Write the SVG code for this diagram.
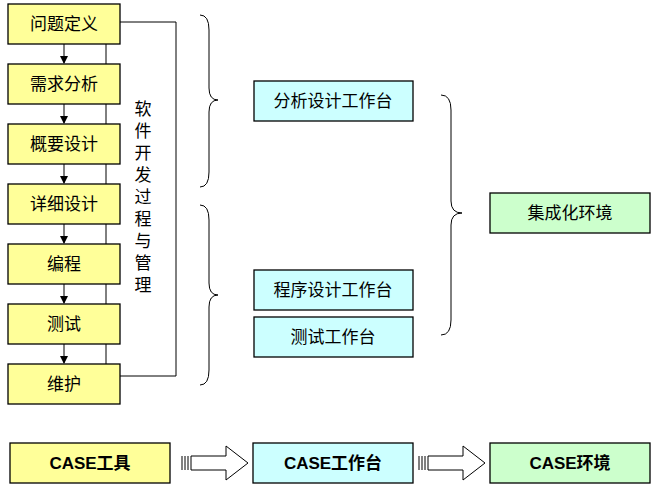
<svg xmlns="http://www.w3.org/2000/svg" width="658" height="491" viewBox="0 0 658 491">
<defs>
<style>
.y{fill:#ffff99;stroke:#000;stroke-width:1.3}
.c{fill:#ccffff;stroke:#000;stroke-width:1.3}
.g{fill:#ccffcc;stroke:#000;stroke-width:1.3}
text{font-family:"Noto Sans CJK SC",sans-serif;font-size:17px;text-anchor:middle;fill:#000}
.b{font-family:"Liberation Sans","Noto Sans CJK SC",sans-serif;font-weight:bold}
.v{writing-mode:vertical-rl;text-anchor:start;letter-spacing:5px}
.l{fill:none;stroke:#000;stroke-width:1}
.br{fill:none;stroke:#000;stroke-width:1}
</style>
<marker id="a" markerWidth="8" markerHeight="8" refX="7" refY="4" orient="auto" markerUnits="userSpaceOnUse"><path d="M0,0 L8,4 L0,8 z" fill="#000"/></marker>
<g id="bigarrow"><path d="M0,11 L0,25 M3,11 L3,25 M6,11 L6,25 M9,11 L9,25 L44,25 L44,35 L66,18 L44,1 L44,11 L9,11" fill="#fff" stroke="#000" stroke-width="1"/></g>
</defs>
<g id="connectors">
<path class="l" d="M64,44 V63" marker-end="url(#a)"/>
<path class="l" d="M64,104 V123" marker-end="url(#a)"/>
<path class="l" d="M64,164 V183" marker-end="url(#a)"/>
<path class="l" d="M64,224 V243" marker-end="url(#a)"/>
<path class="l" d="M64,284 V303" marker-end="url(#a)"/>
<path class="l" d="M64,344 V363" marker-end="url(#a)"/>
<path class="l" d="M106,44 V64 M106,104 V124 M106,164 V184 M106,224 V244 M106,284 V304 M106,344 V364"/>
<path class="l" d="M120,22 H176 V376 H120"/>
<path class="br" d="M200,15 Q209,15 209,30 V88 Q209,100 218,100 Q209,100 209,112 V172 Q209,187 200,187"/>
<path class="br" d="M200,205 Q209,205 209,220 V283 Q209,295 218,295 Q209,295 209,307 V370 Q209,385 200,385"/>
<path class="br" d="M441,95 Q451,95 451,110 V201 Q451,213 462,213 Q451,213 451,225 V320 Q451,335 441,335"/>
<use href="#bigarrow" x="182" y="445"/>
<use href="#bigarrow" x="419" y="445"/>
</g>
<g id="n1"><rect class="y" x="8" y="4" width="112" height="40"/><text x="64" y="30">问题定义</text></g>
<g id="n2"><rect class="y" x="8" y="64" width="112" height="40"/><text x="64" y="90">需求分析</text></g>
<g id="n3"><rect class="y" x="8" y="124" width="112" height="40"/><text x="64" y="150">概要设计</text></g>
<g id="n4"><rect class="y" x="8" y="184" width="112" height="40"/><text x="64" y="210">详细设计</text></g>
<g id="n5"><rect class="y" x="8" y="244" width="112" height="40"/><text x="64" y="270">编程</text></g>
<g id="n6"><rect class="y" x="8" y="304" width="112" height="40"/><text x="64" y="330">测试</text></g>
<g id="n7"><rect class="y" x="8" y="364" width="112" height="40"/><text x="64" y="390">维护</text></g>
<g id="label"><text class="v" x="143" y="100">软件开发过程与管理</text></g>
<g id="w1"><rect class="c" x="254" y="81" width="159" height="40"/><text x="333" y="107">分析设计工作台</text></g>
<g id="w2"><rect class="c" x="254" y="270" width="159" height="40"/><text x="333" y="296">程序设计工作台</text></g>
<g id="w3"><rect class="c" x="254" y="317" width="159" height="40"/><text x="333" y="343">测试工作台</text></g>
<g id="env"><rect class="g" x="490" y="193" width="160" height="40"/><text x="570" y="219">集成化环境</text></g>
<g id="b1"><rect class="y" x="10" y="443" width="160" height="40"/><text class="b" x="90" y="469">CASE工具</text></g>
<g id="b2"><rect class="c" x="253" y="443" width="160" height="40"/><text class="b" x="333" y="469">CASE工作台</text></g>
<g id="b3"><rect class="g" x="490" y="443" width="160" height="40"/><text class="b" x="570" y="469">CASE环境</text></g>
</svg>
